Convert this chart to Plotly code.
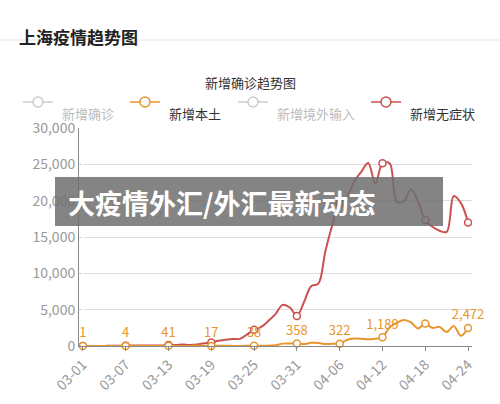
import pandas as pd
import plotly.graph_objects as go

dates = pd.date_range('2022-03-01', '2022-04-24').strftime('%m-%d').tolist()

# 新增无症状
asym = [2, 5, 14, 16, 28, 45, 51, 59, 76, 64, 78, 64, 128, 130, 197, 150, 203, 366, 492, 734,
        865, 977, 979, 1580, 2231, 2631, 3450, 4381, 5656, 5298, 4144, 6051, 8226, 8581, 13086,
        16766, 19660, 20398, 22609, 23937, 25173, 22348, 25141, 25146, 19872, 19923, 21582, 19831,
        17332, 16407, 15861, 15698, 20634, 19657, 16983]
# 新增本土
local = [1, 2, 1, 2, 3, 3, 4, 3, 4, 11, 5, 1, 41, 5, 8, 8, 57, 8, 17, 24,
         31, 4, 4, 29, 38, 45, 50, 96, 326, 355, 358, 260, 438, 425, 268,
         311, 322, 824, 1015, 1006, 914, 994, 1189, 2573, 3200, 3590, 3238, 2417,
         3084, 2494, 2634, 1931, 2736, 1401, 2472]

n = len(dates)
x = list(range(n))
mark = [i for i in x if i % 6 == 0]
labels = [f'{local[i]:,}' if dates[i] != '04-18' else '' for i in mark]
red, orange = '#c9514f', '#e8952d'

fig = go.Figure()
fig.add_trace(go.Scatter(x=x, y=asym, mode='lines', line=dict(color=red, width=2, shape='spline'),
                         showlegend=False, hoverinfo='skip'))
fig.add_trace(go.Scatter(x=mark, y=[asym[i] for i in mark], mode='markers',
                         marker=dict(size=7, color='white', line=dict(color=red, width=1.5)),
                         showlegend=False))
fig.add_trace(go.Scatter(x=x, y=local, mode='lines', line=dict(color=orange, width=2, shape='spline'),
                         showlegend=False, hoverinfo='skip'))
fig.add_trace(go.Scatter(x=mark, y=[local[i] for i in mark], mode='markers+text',
                         text=labels, textposition='top center', cliponaxis=False,
                         textfont=dict(color=orange, size=13),
                         marker=dict(size=7, color='white', line=dict(color=orange, width=1.5)),
                         showlegend=False))

# legend drawn by hand
legend = [('新增确诊', '#cccccc', '#bbbbbb', 23), ('新增本土', orange, '#333333', 130),
          ('新增境外输入', '#cccccc', '#bbbbbb', 238), ('新增无症状', red, '#333333', 371)]
shapes = []
ann = []
def px(v): return (v - 79) / 393
def py(v): return (346 - v) / 218
for name, c, tc, x0 in legend:
    shapes.append(dict(type='line', xref='paper', yref='paper', x0=px(x0), x1=px(x0 + 30),
                       y0=py(102), y1=py(102), line=dict(color=c, width=1.5)))
    shapes.append(dict(type='circle', xref='paper', yref='paper', x0=px(x0 + 10), x1=px(x0 + 20),
                       y0=py(97), y1=py(107), fillcolor='white', line=dict(color=c, width=1.5)))
    ann.append(dict(text=name, xref='paper', yref='paper', x=px(x0 + 37), y=py(102),
                    xanchor='left', showarrow=False, font=dict(size=13, color=tc)))

shapes.append(dict(type='line', xref='paper', yref='paper', x0=px(0), x1=px(500), y0=py(40), y1=py(40),
                   line=dict(color='#e5e5e5', width=1)))
shapes.append(dict(type='rect', xref='paper', yref='paper', x0=px(55), x1=px(443), y0=py(177), y1=py(226),
                   fillcolor='rgba(110,110,110,0.85)', line=dict(width=0)))
ann.append(dict(text='<b>上海疫情趋势图</b>', xref='paper', yref='paper', x=px(17), y=py(22),
                xanchor='left', showarrow=False, font=dict(size=17, color='#222222')))
ann.append(dict(text='新增确诊趋势图', xref='paper', yref='paper', x=px(250), y=py(71),
                showarrow=False, font=dict(size=13, color='#333333')))
ann.append(dict(text='<b>大疫情外汇/外汇最新动态</b>', xref='paper', yref='paper', x=px(66), y=py(202),
                xanchor='left', showarrow=False, font=dict(size=27, color='white')))

fig.update_layout(
    width=500, height=404, margin=dict(l=79, r=28, t=128, b=58),
    paper_bgcolor='white', plot_bgcolor='white',
    font=dict(family='Noto Sans CJK SC', color='#999999'),
    shapes=shapes, annotations=ann,
    xaxis=dict(range=[-0.55, n - 0.45], tickvals=mark, ticktext=[dates[i] for i in mark],
               tickangle=-45, showgrid=False, showline=True, linecolor='#888888', automargin=False,
               ticks='outside', tickcolor='#888888', ticklen=4, tickfont=dict(size=14)),
    yaxis=dict(range=[0, 30000], tickvals=[0, 5000, 10000, 15000, 20000, 25000, 30000],
               tickformat=',', gridcolor='#dddddd', showline=True, linecolor='#888888',
               zeroline=False, tickfont=dict(size=14), automargin=False),
)
fig.write_html('out.html', config={'displayModeBar': False})

# drop the default page margin so the figure sits at the window corner
with open('out.html', encoding='utf-8') as f:
    page = f.read()
page = page.replace('<body>', '<body style="margin:0">', 1)
with open('out.html', 'w', encoding='utf-8') as f:
    f.write(page)
